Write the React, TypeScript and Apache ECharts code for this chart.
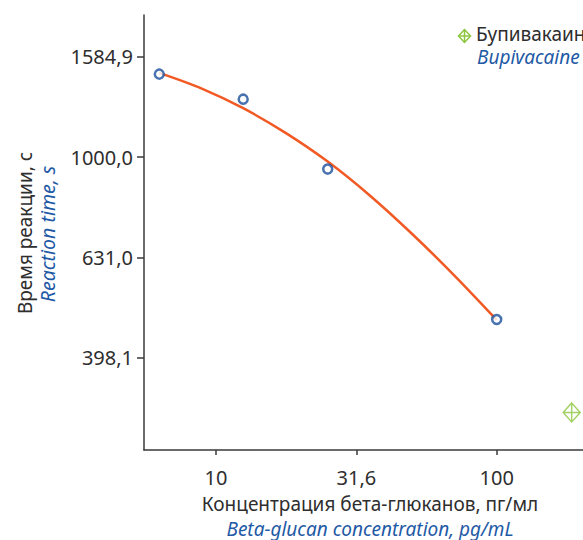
import React, { useEffect, useRef } from "react";
import * as echarts from "echarts";

// Measured points (beta-glucan concentration pg/mL, reaction time s)
const pointX = [6.28, 12.5, 25, 100];
const pointY = [1464, 1305, 947, 475];

// Fitted curve
const curveX = [6.28, 8.9, 12.5, 17.7, 25, 35.4, 50, 70.7, 100];
const curveY = [1472, 1370, 1252, 1118, 980, 838, 703, 581, 474];

// Bupivacaine reference point
const bupiX = [185];
const bupiY = [310];

// Tick values and labels
const xTickValues = [10, 31.6228, 100];
const xTickLabels = ["10", "31,6", "100"];
const yTickValues = [398.107, 630.957, 1000, 1584.893];
const yTickLabels = ["398,1", "631,0", "1000,0", "1584,9"];

const DARK = "#2e2e2e";
const BLUE = "#1f5aa6";
const ORANGE = "#f15a24";
const NAVY = "#1a4f9c";
const GREEN = "#8dc63f";
const FONT = "Noto Sans";

function nearestLabel(v: number, vals: number[], labels: string[]) {
  let best = 0;
  let bd = Infinity;
  vals.forEach((t, i) => {
    const d = Math.abs(Math.log10(t) - Math.log10(v));
    if (d < bd) {
      bd = d;
      best = i;
    }
  });
  return labels[best];
}

export default function App() {
  const ref = useRef<HTMLDivElement>(null);
  useEffect(() => {
    if (!ref.current) return;
    const chart = echarts.init(ref.current, undefined, { renderer: "svg" });
    const option: any = {
      animation: false,
      grid: { left: 144, top: 15, right: 0, bottom: 90 },
      xAxis: {
        type: "log",
        logBase: 10,
        min: 5.54,
        max: 203,
        axisLine: { show: true, lineStyle: { color: "#3a3a3a", width: 1.5 } },
        axisTick: {
          show: true,
          length: 5,
          lineStyle: { color: "#3a3a3a", width: 1.5 },
          customValues: xTickValues,
        },
        axisLabel: {
          customValues: xTickValues,
          color: DARK,
          fontFamily: FONT,
          fontSize: 20,
          margin: 17,
          formatter: (v: number) => nearestLabel(v, xTickValues, xTickLabels),
        },
        splitLine: { show: false },
        minorTick: { show: false },
      },
      yAxis: {
        type: "log",
        logBase: 10,
        min: 261,
        max: 1920,
        axisLine: { show: true, lineStyle: { color: "#3a3a3a", width: 1.5 } },
        axisTick: {
          show: true,
          length: 7,
          lineStyle: { color: "#3a3a3a", width: 1.5 },
          customValues: yTickValues,
        },
        axisLabel: {
          customValues: yTickValues,
          color: DARK,
          fontFamily: FONT,
          fontSize: 20,
          margin: 11,
          formatter: (v: number) => nearestLabel(v, yTickValues, yTickLabels),
        },
        splitLine: { show: false },
      },
      series: [
        {
          type: "line",
          data: curveX.map((x, i) => [x, curveY[i]]),
          smooth: 0.3,
          showSymbol: false,
          lineStyle: { color: ORANGE, width: 2.5 },
          z: 2,
        },
        {
          type: "scatter",
          data: pointX.map((x, i) => [x, pointY[i]]),
          symbol: "circle",
          symbolSize: 9,
          itemStyle: { color: "#ffffff", borderColor: NAVY, borderWidth: 2.5 },
          z: 3,
        },
        {
          type: "scatter",
          data: bupiX.map((x, i) => [x, bupiY[i]]),
          symbol: "path://M10,0 L20,11 L10,22 L0,11 Z M10,0 L10,22 M0,11 L20,11",
          symbolSize: [17, 19],
          itemStyle: { color: "rgba(0,0,0,0)", borderColor: GREEN, borderWidth: 1.5 },
          z: 3,
        },
      ],
      graphic: [
        // legend
        {
          type: "group",
          left: 456,
          top: 27,
          children: [
            {
              type: "polygon",
              shape: { points: [[6, 0], [12, 6.5], [6, 13], [0, 6.5]] },
              style: { fill: "none", stroke: GREEN, lineWidth: 1.5 },
            },
            { type: "line", shape: { x1: 6, y1: 0, x2: 6, y2: 13 }, style: { stroke: GREEN, lineWidth: 1.5 } },
            { type: "line", shape: { x1: 0, y1: 6.5, x2: 12, y2: 6.5 }, style: { stroke: GREEN, lineWidth: 1.5 } },
          ],
        },
        {
          type: "text",
          x: 476,
          y: 34,
          style: { text: "Бупивакаин", fill: DARK, font: `19px "${FONT}"`, verticalAlign: "middle", align: "left" },
        },
        {
          type: "text",
          x: 477,
          y: 57,
          style: { text: "Bupivacaine", fill: BLUE, font: `italic 19px "${FONT}"`, verticalAlign: "middle", align: "left" },
        },
        // y axis title
        {
          type: "text",
          x: 25,
          y: 233,
          rotation: Math.PI / 2,
          style: { text: "Время реакции, с", fill: DARK, font: `19px "${FONT}"`, verticalAlign: "middle", align: "center" },
        },
        {
          type: "text",
          x: 47,
          y: 234,
          rotation: Math.PI / 2,
          style: { text: "Reaction time, s", fill: BLUE, font: `italic 19.5px "${FONT}"`, verticalAlign: "middle", align: "center" },
        },
        // x axis title
        {
          type: "text",
          x: 370,
          y: 504,
          style: { text: "Концентрация бета-глюканов, пг/мл", fill: DARK, font: `19px "${FONT}"`, verticalAlign: "middle", align: "center" },
        },
        {
          type: "text",
          x: 370,
          y: 529,
          style: { text: "Beta-glucan concentration, pg/mL", fill: BLUE, font: `italic 19px "${FONT}"`, verticalAlign: "middle", align: "center" },
        },
      ],
    };
    chart.setOption(option);
    return () => chart.dispose();
  }, []);
  return (
    <div
      ref={ref}
      style={{ position: "absolute", left: 0, top: 0, width: 583, height: 540 }}
    />
  );
}
